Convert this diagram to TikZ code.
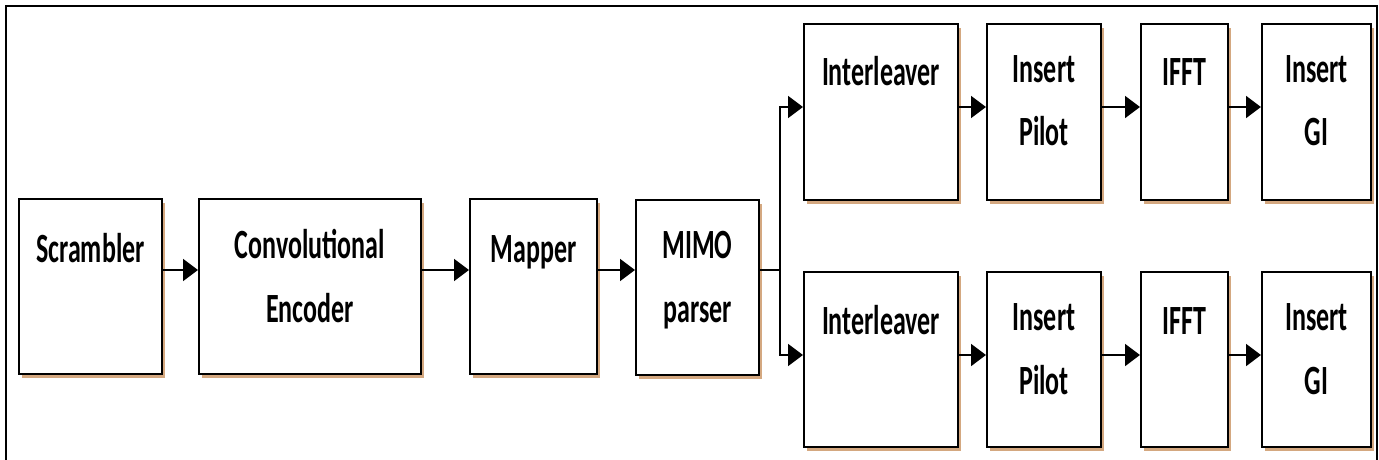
\documentclass[tikz,border=0pt]{standalone}
\usepackage{fontspec}
\setmainfont{Carlito}
\usetikzlibrary{arrows.meta,shadows}
\definecolor{shadowc}{RGB}{212,168,128}
\newcommand{\tx}[1]{\scalebox{1}[1.6]{\fontsize{26}{40}\selectfont\bfseries\begin{tabular}{@{}c@{}}#1\end{tabular}}}
\tikzset{
  blk/.style={draw=black,line width=2pt,fill=white,rectangle,inner sep=0pt,
    drop shadow={shadow xshift=3pt,shadow yshift=-4pt,fill=shadowc,opacity=1}},
  lbl/.style={anchor=north,inner sep=0pt,label distance=0pt},
  arr/.style={line width=2pt,-{Triangle[length=15pt,width=22pt]}},
  frame/.style={line width=2.5pt,black}
}
\begin{document}
\begin{tikzpicture}[x=1pt,y=-1pt]
\useasboundingbox (0,0) rectangle (1379,460);
\draw[frame] (6,480) -- (6,6) -- (1377,6) -- (1377,480);
% main row
\node[blk,anchor=north west,minimum width=143pt,minimum height=175pt,
  label={[lbl,yshift=-19pt]north:\tx{Scrambler}}] (scr) at (18,198) {};
\node[blk,anchor=north west,minimum width=222pt,minimum height=175pt,
  label={[lbl,yshift=-15pt]north:\tx{Convolutional\\Encoder}}] (enc) at (198,198) {};
\node[blk,anchor=north west,minimum width=127pt,minimum height=175pt,
  label={[lbl,yshift=-19pt]north:\tx{Mapper}}] (map) at (469,198) {};
\node[blk,anchor=north west,minimum width=123pt,minimum height=175pt,
  label={[lbl,yshift=-14pt]north:\tx{MIMO\\parser}}] (mimo) at (635,199) {};
% top row
\node[blk,anchor=north west,minimum width=154pt,minimum height=176pt,
  label={[lbl,yshift=-18pt]north:\tx{Interleaver}}] (int1) at (803,23) {};
\node[blk,anchor=north west,minimum width=114pt,minimum height=176pt,
  label={[lbl,yshift=-14pt]north:\tx{Insert\\Pilot}}] (pil1) at (986,23) {};
\node[blk,anchor=north west,minimum width=87pt,minimum height=176pt,
  label={[lbl,yshift=-18pt]north:\tx{IFFT}}] (ifft1) at (1140,23) {};
\node[blk,anchor=north west,minimum width=109pt,minimum height=176pt,
  label={[lbl,yshift=-14pt]north:\tx{Insert\\GI}}] (gi1) at (1261,23) {};
% bottom row
\node[blk,anchor=north west,minimum width=154pt,minimum height=175pt,
  label={[lbl,yshift=-18pt]north:\tx{Interleaver}}] (int2) at (803,271) {};
\node[blk,anchor=north west,minimum width=114pt,minimum height=175pt,
  label={[lbl,yshift=-14pt]north:\tx{Insert\\Pilot}}] (pil2) at (986,271) {};
\node[blk,anchor=north west,minimum width=87pt,minimum height=175pt,
  label={[lbl,yshift=-18pt]north:\tx{IFFT}}] (ifft2) at (1140,271) {};
\node[blk,anchor=north west,minimum width=109pt,minimum height=175pt,
  label={[lbl,yshift=-14pt]north:\tx{Insert\\GI}}] (gi2) at (1261,271) {};
% row levels
\coordinate (r1) at (0,270);
\coordinate (rt) at (0,107);
\coordinate (rb) at (0,355);
\coordinate (split) at (780,270);
% connectors
\draw[arr] (scr.east |- r1) -- (enc.west |- r1);
\draw[arr] (enc.east |- r1) -- (map.west |- r1);
\draw[arr] (map.east |- r1) -- (mimo.west |- r1);
\draw[line width=2pt] (mimo.east |- r1) -- (split);
\draw[arr] (split) |- (int1.west |- rt);
\draw[arr] (split) |- (int2.west |- rb);
\draw[arr] (int1.east |- rt) -- (pil1.west |- rt);
\draw[arr] (pil1.east |- rt) -- (ifft1.west |- rt);
\draw[arr] (ifft1.east |- rt) -- (gi1.west |- rt);
\draw[arr] (int2.east |- rb) -- (pil2.west |- rb);
\draw[arr] (pil2.east |- rb) -- (ifft2.west |- rb);
\draw[arr] (ifft2.east |- rb) -- (gi2.west |- rb);
\end{tikzpicture}
\end{document}
